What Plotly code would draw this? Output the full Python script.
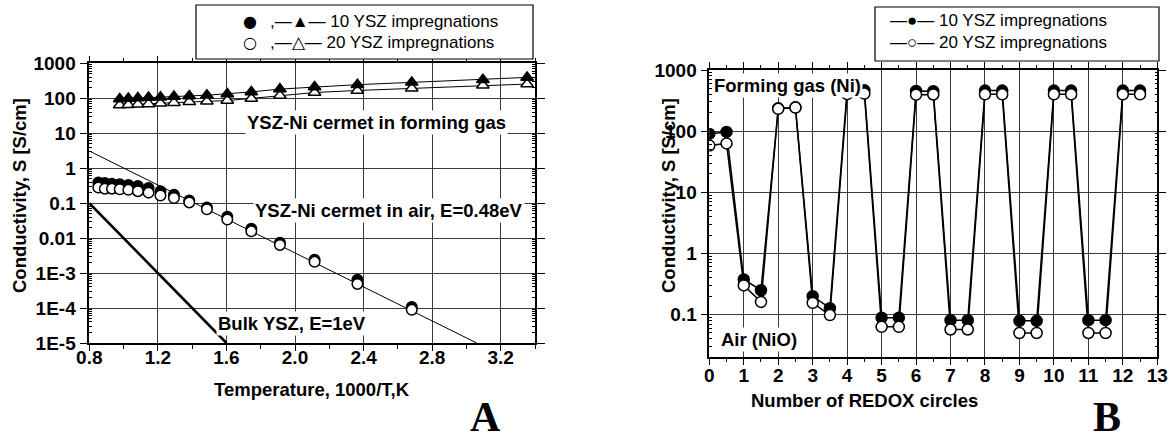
import numpy as np
import plotly.graph_objects as go

# Figure fills the whole window; positions below are given in window pixels.
W, H = 1172, 441

# ---------------- data: panel A ----------------
inv_T_air = [0.8525, 0.8905, 0.9320, 0.9775, 1.0277, 1.0834, 1.1455, 1.2151, 1.2937,
             1.3831, 1.4859, 1.6051, 1.7452, 1.9120, 2.1142, 2.3641, 2.6810]
air_10 = [0.39, 0.38, 0.36, 0.35, 0.33, 0.31, 0.27, 0.22, 0.175, 0.12, 0.075, 0.041,
          0.0185, 0.0074, 0.0024, 0.00064, 0.000107]
air_20 = [0.28, 0.26, 0.26, 0.25, 0.24, 0.22, 0.20, 0.165, 0.14, 0.105, 0.067, 0.034,
          0.0156, 0.0064, 0.0021, 0.00049, 0.000089]

inv_T_fg = [0.9775, 1.0277, 1.0834, 1.1455, 1.2151, 1.2937, 1.3831, 1.4859, 1.6051,
            1.7452, 1.9120, 2.1142, 2.3641, 2.6810, 3.0960, 3.3540]
fg_10 = [95, 98, 102, 105, 107, 112, 117, 122, 132, 152, 183, 210, 245, 285, 340, 395]
fg_20 = [64, 65, 67, 69, 72, 75, 79, 82, 86, 99, 120, 146, 167, 193, 235, 255]

fit_air_x = [0.8, 3.06]
fit_air_y = [3.1, 1e-5]
bulk_x = [0.8, 1.6]
bulk_y = [0.1, 1e-5]

xA_tickvals = [0.8, 1.2, 1.6, 2.0, 2.4, 2.8, 3.2]
xA_ticktext = ["0.8", "1.2", "1.6", "2.0", "2.4", "2.8", "3.2"]
yA_tickvals = [1e-5, 1e-4, 1e-3, 1e-2, 0.1, 1, 10, 100, 1000]
yA_ticktext = ["1E-5", "1E-4", "1E-3", "0.01", "0.1", "1", "10", "100", "1000"]

# ---------------- data: panel B ----------------
redox_x = [0, 0.5, 1, 1.5, 2, 2.5, 3, 3.5, 4, 4.5, 5, 5.5, 6, 6.5,
           7, 7.5, 8, 8.5, 9, 9.5, 10, 10.5, 11, 11.5, 12, 12.5]
redox_10 = [90, 97, 0.375, 0.25, 236, 245, 0.20, 0.127, 470, 465, 0.089, 0.089, 455, 450,
            0.081, 0.081, 460, 460, 0.079, 0.079, 460, 460, 0.081, 0.081, 460, 460]
redox_20 = [58, 63, 0.30, 0.161, 232, 243, 0.155, 0.098, 403, 412, 0.063, 0.063, 395, 398,
            0.057, 0.057, 400, 400, 0.050, 0.050, 400, 400, 0.050, 0.050, 400, 400]

xB_tickvals = list(range(0, 14))
yB_tickvals = [0.1, 1, 10, 100, 1000]
yB_ticktext = ["0.1", "1", "10", "100", "1000"]

# ---------------- helpers (window pixels -> paper) ----------------
def px(x):
    return x / W

def py(y):
    return 1 - y / H

SANS = "Liberation Sans, Arial, sans-serif"
BOLD = dict(family=SANS, size=18.5, color="black", weight="bold")
TICK = dict(family=SANS, size=19, color="black", weight="bold")
LEG = dict(family=SANS, size=17, color="black")

fig = go.Figure()

# panel A traces
fig.add_trace(go.Scatter(x=fit_air_x, y=fit_air_y, mode="lines",
                         line=dict(color="black", width=1), xaxis="x", yaxis="y",
                         showlegend=False, hoverinfo="skip"))
fig.add_trace(go.Scatter(x=bulk_x, y=bulk_y, mode="lines",
                         line=dict(color="black", width=2.6), xaxis="x", yaxis="y",
                         showlegend=False, hoverinfo="skip"))
fig.add_trace(go.Scatter(x=inv_T_fg, y=fg_20, mode="lines+markers",
                         line=dict(color="black", width=1),
                         marker=dict(symbol="triangle-up", size=11, color="white",
                                     line=dict(color="black", width=1.5)),
                         xaxis="x", yaxis="y", showlegend=False))
fig.add_trace(go.Scatter(x=inv_T_fg, y=fg_10, mode="lines+markers",
                         line=dict(color="black", width=1),
                         marker=dict(symbol="triangle-up", size=11, color="black",
                                     line=dict(color="black", width=1.5)),
                         xaxis="x", yaxis="y", showlegend=False))
fig.add_trace(go.Scatter(x=inv_T_air, y=air_10, mode="markers",
                         marker=dict(symbol="circle", size=10.5, color="black",
                                     line=dict(color="black", width=1.5)),
                         xaxis="x", yaxis="y", showlegend=False))
fig.add_trace(go.Scatter(x=inv_T_air, y=air_20, mode="markers",
                         marker=dict(symbol="circle", size=10.5, color="white",
                                     line=dict(color="black", width=1.5)),
                         xaxis="x", yaxis="y", showlegend=False))

# panel B traces
fig.add_trace(go.Scatter(x=redox_x, y=redox_10, mode="lines+markers",
                         line=dict(color="black", width=1.5),
                         marker=dict(symbol="circle", size=11, color="black",
                                     line=dict(color="black", width=1.5)),
                         xaxis="x2", yaxis="y2", showlegend=False))
fig.add_trace(go.Scatter(x=redox_x, y=redox_20, mode="lines+markers",
                         line=dict(color="black", width=1.5),
                         marker=dict(symbol="circle", size=11, color="white",
                                     line=dict(color="black", width=1.5)),
                         xaxis="x2", yaxis="y2", showlegend=False))

common = dict(showline=True, linecolor="black", linewidth=1.5, mirror="allticks",
              ticks="outside", tickcolor="black", tickwidth=1.2,
              showgrid=True, gridcolor="#3a3a3a", gridwidth=1, zeroline=False,
              tickfont=TICK)

minor_log = dict(ticks="inside", ticklen=3, tickcolor="black", tickwidth=1, showgrid=False,
                 tickvals=[k * 10.0 ** e for e in range(-5, 3) for k in range(2, 10)])

fig.update_layout(
    autosize=True, margin=dict(l=0, r=0, t=0, b=0, autoexpand=False),
    paper_bgcolor="white", plot_bgcolor="white",
    xaxis=dict(domain=[px(89.3), px(535)], range=[0.8, 3.4], anchor="y",
               tickvals=xA_tickvals, ticktext=xA_ticktext, ticklen=6,
               ticklabelstandoff=-10,
               minor=dict(ticks="outside", ticklen=4, tickcolor="black", showgrid=False,
                          tickvals=[1.0, 1.4, 1.8, 2.2, 2.6, 3.0, 3.4]),
               **common),
    yaxis=dict(domain=[py(343), py(63.3)], type="log", range=[-5, 3], anchor="x",
               tickvals=yA_tickvals, ticktext=yA_ticktext, ticklen=8,
               minor=minor_log, **common),
    xaxis2=dict(domain=[px(709.3), px(1157.3)], range=[0, 13], anchor="y2",
                tickvals=xB_tickvals, ticklen=6, ticklabelstandoff=-6,
                minor=dict(ticks="outside", ticklen=3, tickcolor="black", showgrid=False,
                           tickvals=[i + 0.5 for i in range(13)]),
                **common),
    yaxis2=dict(domain=[py(357.3), py(70)], type="log", range=[np.log10(0.02), 3],
                anchor="x2", tickvals=yB_tickvals, ticktext=yB_ticktext, ticklen=7,
                minor=dict(ticks="inside", ticklen=3, tickcolor="black", tickwidth=1,
                           showgrid=False,
                           tickvals=[k * 10.0 ** e for e in range(-2, 3) for k in range(2, 10)]),
                **common),
)

ann = []
def text(x, y, s, font, xanchor="center", bg=None, angle=0, yanchor="middle", pad=1):
    d = dict(x=px(x), y=py(y), xref="paper", yref="paper", text=s, showarrow=False,
             font=font, xanchor=xanchor, yanchor=yanchor, textangle=angle, borderpad=pad)
    if bg:
        d["bgcolor"] = bg
    ann.append(d)

SERIF = dict(family="Liberation Serif, Times New Roman, serif", size=42,
             color="black", weight="bold")

# panel A labels
text(245, 123, "YSZ-Ni cermet in forming gas", BOLD, "left", "white")
text(253, 210, "YSZ-Ni cermet in air, E=0.48eV", BOLD, "left", "white")
text(216, 323, "Bulk YSZ, E=1eV", BOLD, "left", "white")
text(312, 389, "Temperature, 1000/T,K", BOLD)
text(19, 196, "Conductivity, S [S/cm]", BOLD, angle=-90)
text(485, 440.5, "A", SERIF, yanchor="bottom", pad=0)
# panel A legend
text(250, 21, "●", dict(family="DejaVu Sans", size=16, color="black"))
text(268, 21, ",—▲— 10 YSZ impregnations", LEG, "left")
text(250, 42, "○", dict(family="DejaVu Sans", size=16, color="black"))
text(268, 42, ",—△— 20 YSZ impregnations", LEG, "left")

# panel B labels
text(712, 85, "Forming gas (Ni)", BOLD, "left", "white")
text(719, 339, "Air (NiO)", BOLD, "left", "white")
text(864, 400, "Number of REDOX circles", BOLD)
text(668, 196, "Conductivity, S [S/cm]", BOLD, angle=-90)
text(1107, 440.5, "B", SERIF, yanchor="bottom", pad=0)
# panel B legend
text(888, 20, "—●— 10 YSZ impregnations", LEG, "left")
text(888, 42, "—○— 20 YSZ impregnations", LEG, "left")

fig.update_layout(annotations=ann)

fig.update_layout(shapes=[
    dict(type="rect", xref="paper", yref="paper", x0=px(196), x1=px(533), y0=py(59), y1=py(5),
         line=dict(color="black", width=1.2), fillcolor="white", layer="above"),
    dict(type="rect", xref="paper", yref="paper", x0=px(875), x1=px(1159), y0=py(61), y1=py(7),
         line=dict(color="black", width=1.2), fillcolor="rgba(0,0,0,0)", layer="above"),
])

# Remove the default page margin so the figure sits flush with the window.
page_js = ("document.body.style.margin='0px';"
           "document.body.style.overflow='hidden';"
           "document.documentElement.style.overflow='hidden';")

fig.write_html("out.html", default_width="100vw", default_height="100vh",
               post_script=page_js)
